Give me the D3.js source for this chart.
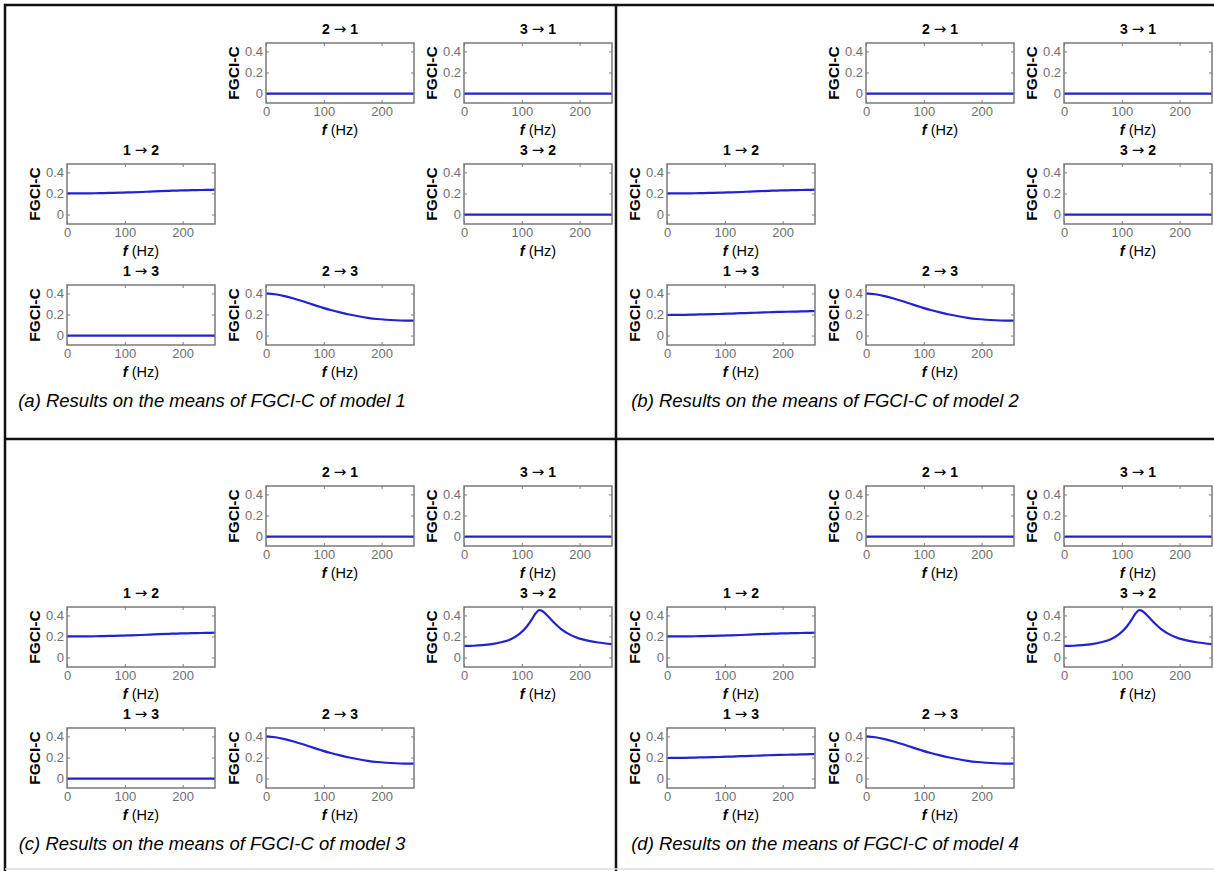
<!DOCTYPE html>
<html><head><meta charset="utf-8">
<script src="https://cdn.jsdelivr.net/npm/d3@7"></script>
<style>body{margin:0;background:#fff;} svg{display:block;font-family:Arial,"Liberation Sans",sans-serif;}</style>
</head><body><svg id="chart" width="1214" height="871"></svg>
<script>
// ---- data ----
const freqs = [0,16,32,48,64,80,96,112,128,144,160,176,192,208,224,240,256];
const zeroLine = [0,0,0,0,0,0,0,0,0,0,0,0,0,0,0,0,0];
const rise12 = [0.200,0.200,0.201,0.202,0.204,0.206,0.208,0.211,0.214,0.218,0.222,0.225,0.228,0.230,0.232,0.234,0.236];
const rise13 = [0.195,0.196,0.197,0.199,0.201,0.203,0.206,0.209,0.212,0.215,0.218,0.221,0.224,0.226,0.228,0.230,0.232];
const fall23 = [0.400,0.392,0.375,0.352,0.325,0.296,0.268,0.242,0.220,0.200,0.183,0.168,0.157,0.150,0.145,0.142,0.141];
const peakFreqs = [0,16,32,48,64,80,96,108,116,124,130,136,144,156,168,184,200,216,232,256];
const peak32 = [0.110,0.112,0.118,0.128,0.145,0.172,0.225,0.290,0.350,0.420,0.450,0.440,0.400,0.330,0.270,0.215,0.180,0.158,0.143,0.128];
const xTicks = [0,100,200];
const yTicks = [0,0.2,0.4];
const xDomain = [0,256];
const yDomain = [-0.09,0.48];
const pairFrom = ["2","3","1","3","1","2"];
const pairTo = ["1","1","2","2","3","3"];
const captions = [
  "(a) Results on the means of FGCI-C of model 1",
  "(b) Results on the means of FGCI-C of model 2",
  "(c) Results on the means of FGCI-C of model 3",
  "(d) Results on the means of FGCI-C of model 4"
];
// series per model, in pair order
const model1 = ["zero","zero","rise12","zero","zero","fall23"];
const model2 = ["zero","zero","rise12","zero","rise13","fall23"];
const model3 = ["zero","zero","rise12","peak32","zero","fall23"];
const model4 = ["zero","zero","rise12","peak32","rise13","fall23"];

// ---- layout ----
const seriesTable = {
  zero: freqs.map((f,i)=>({f, v: zeroLine[i]})),
  rise12: freqs.map((f,i)=>({f, v: rise12[i]})),
  rise13: freqs.map((f,i)=>({f, v: rise13[i]})),
  fall23: freqs.map((f,i)=>({f, v: fall23[i]})),
  peak32: peakFreqs.map((f,i)=>({f, v: peak32[i]}))
};
const models = [model1, model2, model3, model4];
const svg = d3.select("#chart");
const panelOffsets = [[0,0],[600,0],[0,443],[600,443]];
const captionCenters = [212, 225, 212, 225];
const colLeft = [67,266,464], rowTop = [43,164,285];
const gridPos = [[0,1],[0,2],[1,0],[1,2],[2,0],[2,1]];
const W = 148, H = 60;
const x = d3.scaleLinear().domain(xDomain).range([0,W]);
const y = d3.scaleLinear().domain(yDomain).range([H,0]);
const grey = "#7a7a7a";
const line = d3.line().x(d=>x(d.f)).y(d=>y(d.v)).curve(d3.curveMonotoneX);

svg.append("rect").attr("width",1214).attr("height",871).attr("fill","#fff");

models.forEach((model, p) => {
  const [ox, oy] = panelOffsets[p];
  const pg = svg.append("g").attr("transform",`translate(${ox},${oy})`);
  model.forEach((key, k) => {
    const [r, c] = gridPos[k];
    const g = pg.append("g").attr("transform",`translate(${colLeft[c]},${rowTop[r]})`);
    const ax = g.append("g").attr("transform",`translate(0,${H})`)
      .call(d3.axisBottom(x).tickValues(xTicks).tickSizeInner(-3).tickSizeOuter(0).tickPadding(4));
    const ay = g.append("g")
      .call(d3.axisLeft(y).tickValues(yTicks).tickFormat(d=>d===0?"0":d3.format(".1f")(d)).tickSizeInner(-3).tickSizeOuter(0).tickPadding(3));
    const at = g.append("g").call(d3.axisTop(x).tickValues(xTicks).tickFormat("").tickSizeInner(-3).tickSizeOuter(0));
    const ar = g.append("g").attr("transform",`translate(${W},0)`).call(d3.axisRight(y).tickValues(yTicks).tickFormat("").tickSizeInner(-3).tickSizeOuter(0));
    [ax,ay,at,ar].forEach(a=>{
      a.select(".domain").remove();
      a.selectAll(".tick line").attr("stroke",grey).attr("stroke-width",1);
      a.selectAll("text").attr("fill","#6f6f6f").attr("font-size",13).attr("font-family","Arial, 'Liberation Sans', sans-serif");
    });
    g.append("path").datum(seriesTable[key]).attr("d",line)
      .attr("fill","none").attr("stroke","#2222d4").attr("stroke-width",2.2);
    g.append("rect").attr("width",W).attr("height",H).attr("fill","none")
      .attr("stroke",grey).attr("stroke-width",1.5);
    // title
    const t = g.append("text").attr("x",W/2).attr("y",-9).attr("text-anchor","middle")
      .attr("font-weight","bold").attr("font-size",14);
    t.append("tspan").text(pairFrom[k] + " ");
    t.append("tspan").attr("font-family","'DejaVu Sans', sans-serif").attr("font-weight","normal").attr("font-size",15).text("→");
    t.append("tspan").text(" " + pairTo[k]);
    // y label
    g.append("text").attr("transform",`translate(-27,${H/2}) rotate(-90)`)
      .attr("text-anchor","middle").attr("font-weight","bold").attr("font-size",15.5).text("FGCI-C");
    // x label
    const xl = g.append("text").attr("x",W/2).attr("y",H+32).attr("text-anchor","middle").attr("font-size",14.5);
    xl.append("tspan").attr("font-weight","bold").attr("font-style","italic").text("f");
    xl.append("tspan").text(" (Hz)");
  });
  pg.append("text").attr("x",captionCenters[p]).attr("y",407).attr("text-anchor","middle")
    .attr("font-style","italic").attr("font-size",18.5).text(captions[p]);
});

// frame
const frame = svg.append("g").attr("stroke","#111").attr("stroke-width",2.5);
frame.append("line").attr("x1",4).attr("x2",1214).attr("y1",5).attr("y2",5);
frame.append("line").attr("x1",5).attr("x2",5).attr("y1",4).attr("y2",871);
frame.append("line").attr("x1",616).attr("x2",616).attr("y1",4).attr("y2",871);
frame.append("line").attr("x1",4).attr("x2",1214).attr("y1",439).attr("y2",439);
svg.append("line").attr("x1",5).attr("x2",1214).attr("y1",869).attr("y2",869).attr("stroke","#ddd").attr("stroke-width",1.5);
</script></body></html>
